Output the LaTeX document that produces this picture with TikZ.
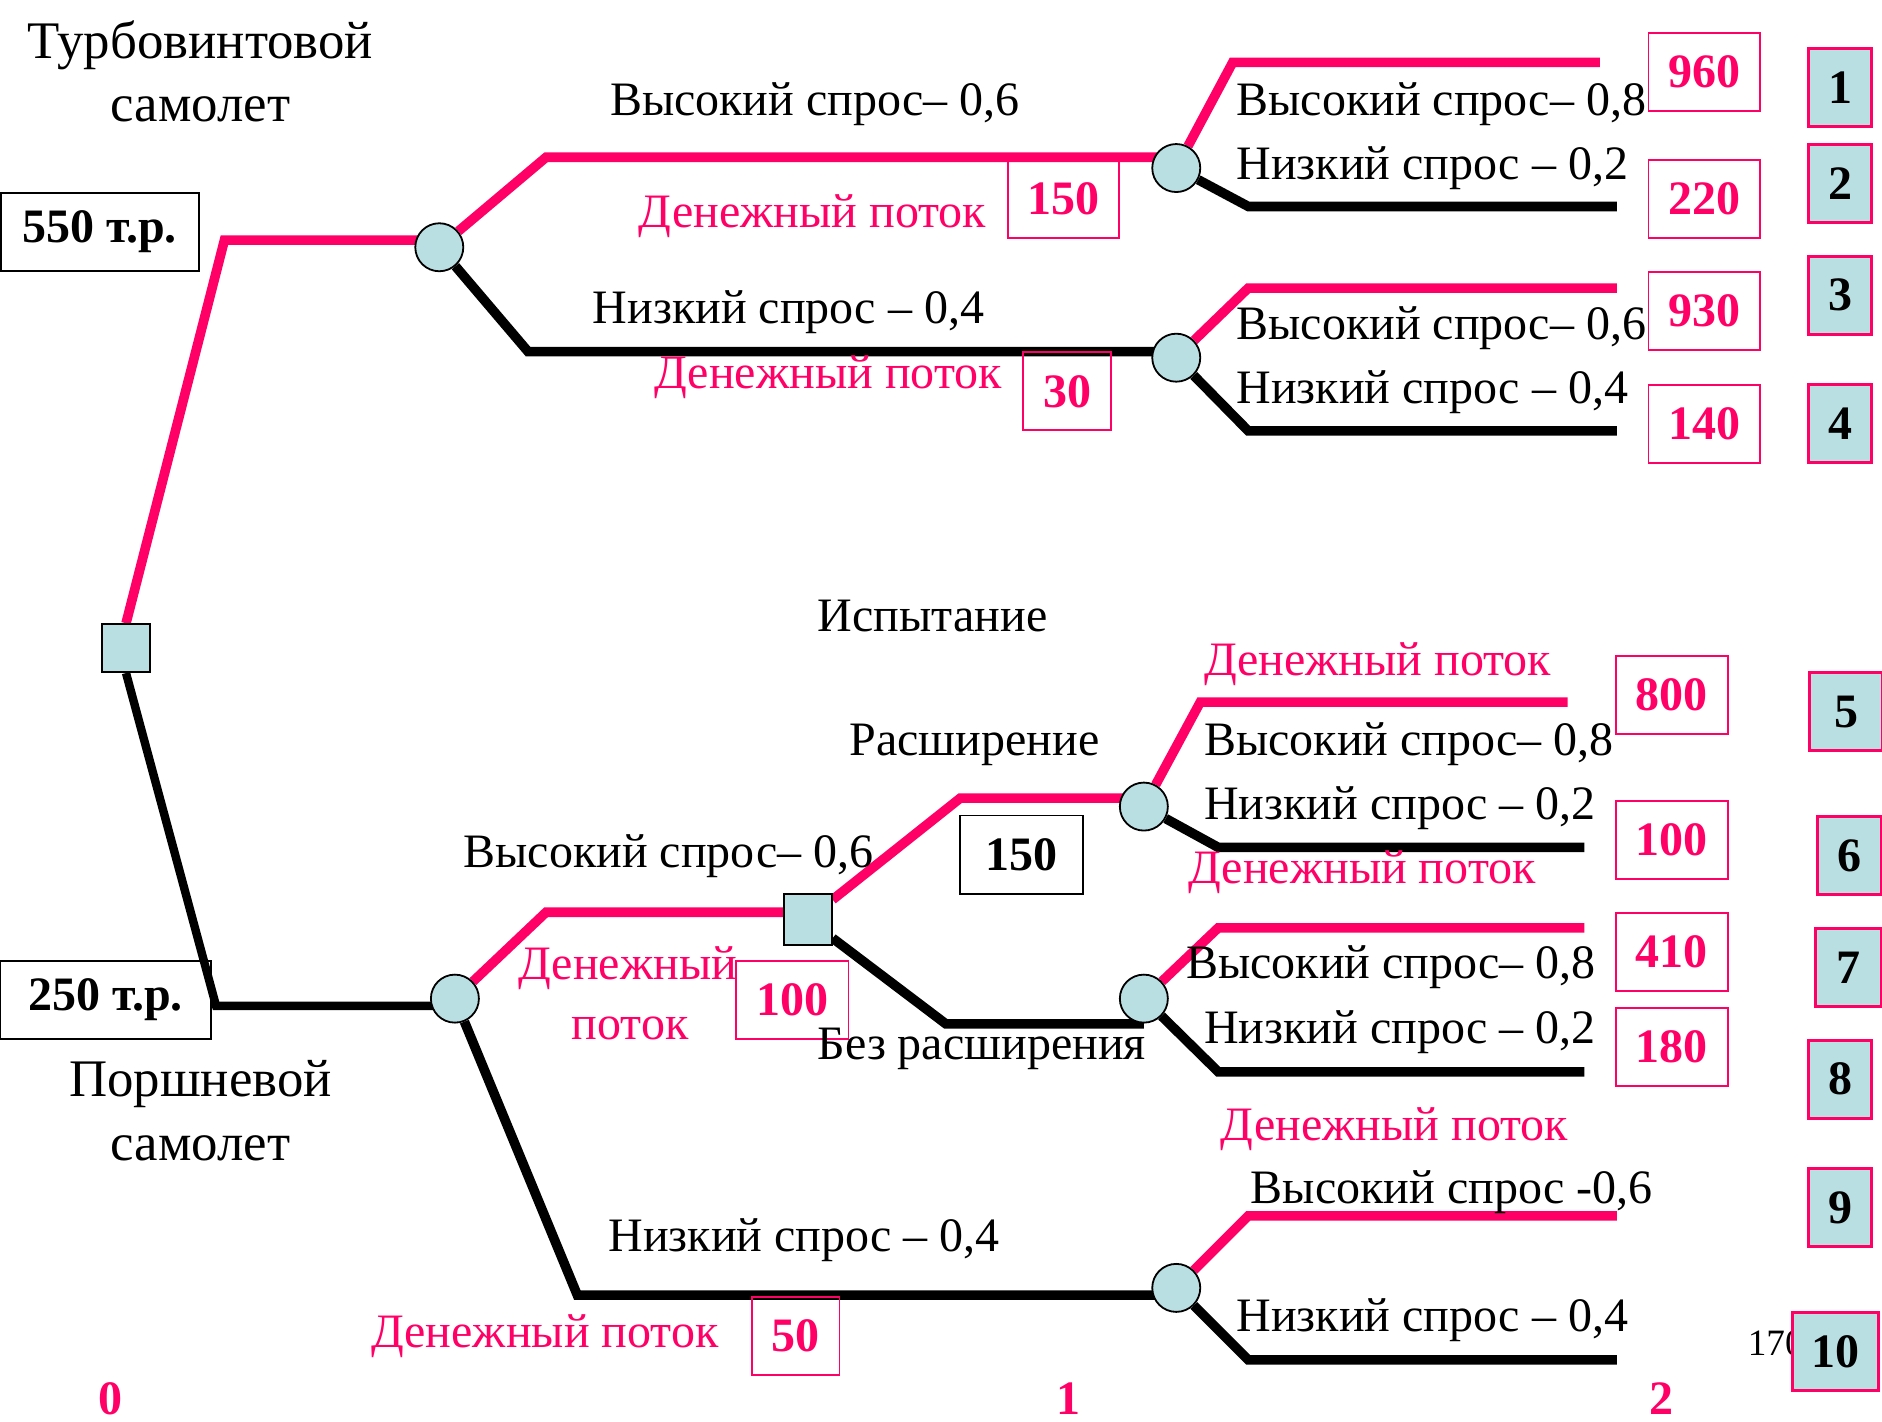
\documentclass[tikz,border=0pt]{standalone}
\usepackage{fontspec}
\setmainfont{Liberation Serif}
\usetikzlibrary{backgrounds}
\definecolor{pk}{RGB}{255,0,102}
\definecolor{lb}{RGB}{185,223,227}
\begin{document}
\begin{tikzpicture}[x=1pt,y=-1pt,
  lbl/.style={font=\fontsize{40}{40}\selectfont, inner sep=0pt},
  ttl/.style={font=\fontsize{44}{44}\selectfont, inner sep=0pt},
  pkl/.style={lbl, text=pk},
  valbox/.style={draw=pk, line width=1.5pt, font=\fontsize{40}{40}\selectfont\bfseries, text=pk, minimum width=93pt, minimum height=65pt, inner sep=0pt},
  numbox/.style={draw=pk, fill=lb, line width=2.5pt, font=\fontsize{40}{40}\selectfont\bfseries, minimum width=53pt, minimum height=65pt, inner sep=0pt},
  costbox/.style={draw=black, line width=1.5pt, font=\fontsize{40}{40}\selectfont\bfseries, minimum height=65pt, inner sep=0pt},
  chance/.style={circle, draw=black, fill=lb, line width=1.5pt, minimum size=40pt, inner sep=0pt},
  decision/.style={rectangle, draw=black, fill=lb, line width=1.5pt, minimum width=40pt, minimum height=40pt, inner sep=0pt},
  axis/.style={font=\fontsize{40}{40}\selectfont\bfseries, text=pk, inner sep=0pt},
  pl/.style={draw=pk, line width=8pt},
  bl/.style={draw=black, line width=8pt}
]
\path[use as bounding box] (0,0) rectangle (1568,1184);

% decision and chance nodes
\node[decision] (sq) at (105,540) {};
\node[chance] (c1) at (366,206) {};
\node[chance] (c2) at (980,140) {};
\node[chance] (c3) at (980,298) {};
\node[chance] (c4) at (379,832) {};
\node[decision, minimum height=42pt] (s2) at (673,766) {};
\node[chance] (c5) at (953,672) {};
\node[chance] (c6) at (953,832) {};
\node[chance] (c7) at (980,1073) {};

% corner coordinates
\coordinate (k1) at (187,200);
\coordinate (k2) at (455,131);
\coordinate (k3) at (440,293);
\coordinate (k4) at (1027,52);  \coordinate (e1) at (1333,52);
\coordinate (k5) at (1040,172); \coordinate (e2) at (1347,172);
\coordinate (k6) at (1040,240); \coordinate (e3) at (1347,240);
\coordinate (k7) at (1040,359); \coordinate (e4) at (1347,359);
\coordinate (k8) at (180,838);
\coordinate (k9) at (455,760);
\coordinate (k10) at (481,1079);
\coordinate (k11) at (800,665);
\coordinate (k12) at (788,853);
\coordinate (k13) at (1000,585); \coordinate (e5) at (1306,585);
\coordinate (k14) at (1015,706); \coordinate (e6) at (1320,706);
\coordinate (k15) at (1015,773); \coordinate (e7) at (1320,773);
\coordinate (k16) at (1015,893); \coordinate (e8) at (1320,893);
\coordinate (k17) at (1040,1013); \coordinate (e9) at (1347,1013);
\coordinate (k18) at (1040,1133); \coordinate (e10) at (1347,1133);

\begin{scope}[on background layer]
  \draw[pl] (sq.north) -- (k1) -- (k1 -| c1);
  \draw[pl] (c1) -- (k2) -- (k2 -| c2);
  \draw[bl] (c1) -- (k3) -- (k3 -| c3);
  \draw[pl] (c2) -- (k4) -- (e1);
  \draw[bl] (c2) -- (k5) -- (e2);
  \draw[pl] (c3) -- (k6) -- (e3);
  \draw[bl] (c3) -- (k7) -- (e4);
  \draw[bl, line width=7pt] (sq.south) -- (k8) -- (k8 -| c4);
  \draw[pl] (c4) -- (k9) -- (k9 -| s2);
  \draw[bl] (c4) -- (k10) -- (k10 -| c7);
  \draw[pl] (s2) -- (k11) -- (k11 -| c5);
  \draw[bl] (s2) -- (k12) -- (k12 -| c6);
  \draw[pl] (c5) -- (k13) -- (e5);
  \draw[bl] (c5) -- (k14) -- (e6);
  \draw[pl] (c6) -- (k15) -- (e7);
  \draw[bl] (c6) -- (k16) -- (e8);
  \draw[pl] (c7) -- (k17) -- (e9);
  \draw[bl] (c7) -- (k18) -- (e10);
\end{scope}

% top-left labels
\node[ttl] (t1) at (167,38) {Турбовинтовой};
\node[ttl] (t2) at (167,91) {самолет};
\node[costbox, minimum width=165pt] (b550) at (83,193) {550 т.р.};
\node[costbox, minimum width=176pt] (b250) at (88,833) {250 т.р.};
\node[ttl] (t3) at (167,903) {Поршневой};
\node[ttl] (t4) at (167,957) {самолет};

% top branch labels
\node[lbl] (l1) at (679,87) {Высокий спрос– 0,6};
\node[pkl] (d1) at (677,180) {Денежный поток};
\node[valbox, minimum width=93pt] (v150) at (886,166) {150};
\node[lbl] (l2) at (657,260) {Низкий спрос – 0,4};
\node[pkl] (d2) at (690,314) {Денежный поток};
\node[valbox, minimum width=73pt] (v30) at (889,326) {30};

\node[lbl, anchor=west] (l3) at (1030,87) {Высокий спрос– 0,8};
\node[lbl, anchor=west] (l4) at (1030,140) {Низкий спрос – 0,2};
\node[lbl, anchor=west] (l5) at (1030,273) {Высокий спрос– 0,6};
\node[lbl, anchor=west] (l6) at (1030,327) {Низкий спрос – 0,4};

\node[valbox] (v960) at (1420,60) {960};
\node[valbox] (v220) at (1420,166) {220};
\node[valbox] (v930) at (1420,259) {930};
\node[valbox] (v140) at (1420,353) {140};
\node[numbox] (n1) at (1533,73) {1};
\node[numbox] (n2) at (1533,153) {2};
\node[numbox] (n3) at (1533,246) {3};
\node[numbox] (n4) at (1533,353) {4};

% bottom labels
\node[lbl] (i1) at (777,513) {Испытание};
\node[lbl] (i2) at (812,621) {Расширение};
\node[lbl] (l7) at (557,713) {Высокий спрос– 0,6};
\node[costbox, minimum width=103pt] (b150) at (851,712) {150};
\node[pkl] (d3) at (523,807) {Денежный};
\node[pkl] (d4) at (525,857) {поток};
\node[valbox, minimum width=94pt] (v100a) at (660,833) {100};
\node[lbl] (i3) at (818,874) {Без расширения};

\node[pkl, anchor=west] (d5) at (1003,553) {Денежный поток};
\node[lbl, anchor=west] (l8) at (1003,620) {Высокий спрос– 0,8};
\node[lbl, anchor=west] (l9) at (1003,673) {Низкий спрос – 0,2};
\node[pkl, anchor=west] (d6) at (990,727) {Денежный поток};
\node[lbl, anchor=west] (l10) at (988,806) {Высокий спрос– 0,8};
\node[lbl, anchor=west] (l11) at (1003,860) {Низкий спрос – 0,2};
\node[pkl, anchor=west] (d7) at (1017,941) {Денежный поток};
\node[lbl, anchor=west] (l12) at (1042,993) {Высокий спрос -0,6};
\node[lbl, anchor=west] (l13) at (1030,1100) {Низкий спрос – 0,4};
\node[lbl] (l14) at (670,1033) {Низкий спрос – 0,4};
\node[pkl] (d8) at (454,1113) {Денежный поток};
\node[valbox, minimum width=73pt] (v50) at (663,1113) {50};

\node[valbox] (v800) at (1393,579) {800};
\node[valbox] (v100) at (1393,700) {100};
\node[valbox] (v410) at (1393,793) {410};
\node[valbox] (v180) at (1393,872) {180};

\node[font=\fontsize{31}{31}\selectfont, inner sep=0pt, anchor=west] (pg) at (1456,1119) {170};
\node[numbox, minimum width=61pt] (n5) at (1538,593) {5};
\node[numbox] (n6) at (1541,713) {6};
\node[numbox, minimum width=55pt] (n7) at (1540,806) {7};
\node[numbox] (n8) at (1533,899) {8};
\node[numbox] (n9) at (1533,1006) {9};
\node[numbox, minimum width=72pt] (n10) at (1529,1126) {10};

% time axis
\node[axis] (a0) at (92,1165) {0};
\node[axis] (a1) at (890,1165) {1};
\node[axis] (a2) at (1384,1165) {2};
\end{tikzpicture}
\end{document}
